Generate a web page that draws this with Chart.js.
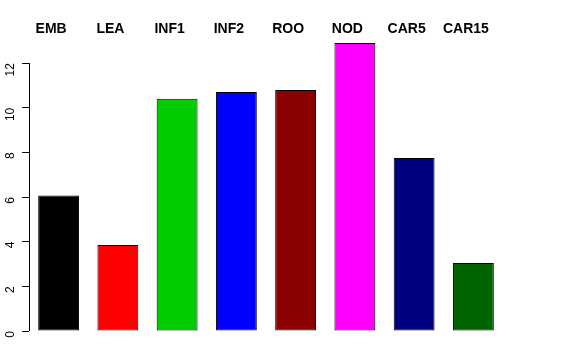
<!DOCTYPE html>
<html>
<head>
<meta charset="utf-8">
<script src="https://cdn.jsdelivr.net/npm/chart.js@4"></script>
<style>
  html, body { margin: 0; padding: 0; background: #fff; }
  #wrap { width: 576px; height: 360px; }
</style>
</head>
<body>
<div id="wrap"><canvas id="myChart" width="576" height="360"></canvas></div>
<script>
// data
const categories = ['EMB', 'LEA', 'INF1', 'INF2', 'ROO', 'NOD', 'CAR5', 'CAR15'];
const values = [6.07, 3.85, 10.4, 10.7, 10.79, 12.9, 7.75, 3.05];
const barColors = ['#000000', '#FF0000', '#00CD00', '#0000FF', '#8B0000', '#FF00FF', '#000080', '#006400'];
const yTicks = [0, 2, 4, 6, 8, 10, 12];

// bold labels above the plot, plus the short y axis line (0..12)
const topLabels = {
    id: 'topLabels',
    afterDraw(chart) {
        const ctx = chart.ctx;
        const x = chart.scales.x;
        const y = chart.scales.y;
        ctx.save();
        ctx.font = 'bold 14px "Liberation Sans", Arial, sans-serif';
        ctx.fillStyle = '#000';
        ctx.textAlign = 'center';
        ctx.textBaseline = 'middle';
        categories.forEach((c, i) => {
            ctx.fillText(c, x.getPixelForValue(i) - 7.5, 29.5);
        });
        ctx.strokeStyle = '#000';
        ctx.lineWidth = 1;
        ctx.beginPath();
        ctx.moveTo(29.5, y.getPixelForValue(yTicks[0]));
        ctx.lineTo(29.5, y.getPixelForValue(yTicks[yTicks.length - 1]));
        ctx.stroke();
        ctx.restore();
    }
};

var ctx = document.getElementById('myChart').getContext('2d');
var myChart = new Chart(ctx, {
    type: 'bar',
    data: {
        labels: categories,
        datasets: [{
            data: values,
            backgroundColor: barColors,
            borderColor: '#000000',
            borderWidth: 1,
            borderSkipped: false,
            barPercentage: 0.69,
            categoryPercentage: 1.0
        }]
    },
    options: {
        responsive: false,
        animation: false,
        layout: { padding: { top: 43, right: 73, bottom: 29, left: 0 } },
        plugins: { legend: { display: false }, tooltip: { enabled: false } },
        scales: {
            x: {
                display: false
            },
            y: {
                min: 0,
                max: 12.9,
                afterBuildTicks: (scale) => {
                    scale.ticks = yTicks.map(v => ({ value: v }));
                },
                afterFit: (scale) => { scale.width = 29; },
                border: { display: false },
                grid: {
                    drawOnChartArea: false,
                    tickLength: 7,
                    color: '#000'
                },
                ticks: {
                    minRotation: 90,
                    maxRotation: 90,
                    padding: 11,
                    color: '#000',
                    font: { family: '"Liberation Sans", Arial, sans-serif', size: 12 }
                }
            }
        }
    },
    plugins: [topLabels]
});
</script>
</body>
</html>
